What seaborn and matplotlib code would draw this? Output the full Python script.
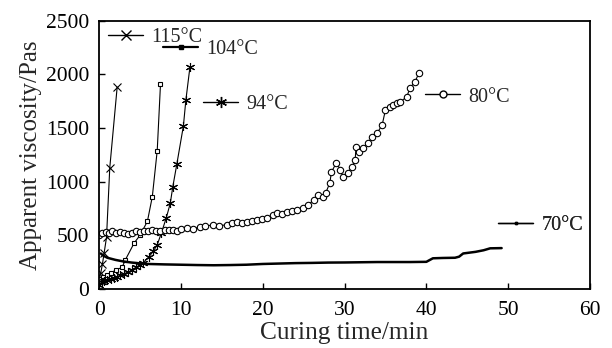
import matplotlib
matplotlib.use("Agg")
import matplotlib.pyplot as plt
from matplotlib.lines import Line2D
import seaborn as sns
import pandas as pd

# Curing time (min) and apparent viscosity (Pa·s) at each curing temperature
t115 = [0.0, 0.2, 0.4, 0.6, 0.9, 1.3, 2.2]
v115 = [80, 150, 230, 330, 480, 1130, 1880]

t104 = [0.0, 0.5, 1.0, 1.5, 2.0, 2.8, 3.2, 4.3, 5.0, 5.9, 6.5, 7.1, 7.5]
v104 = [90, 110, 130, 150, 175, 200, 270, 430, 500, 630, 860, 1290, 1910]

t94 = [0.0, 0.3, 0.6, 1.0, 1.4, 1.8, 2.2, 2.6, 3.0, 3.5, 4.0, 4.5, 5.0,
       5.4, 6.1, 6.6, 7.1, 7.6, 8.2, 8.7, 9.0, 9.5, 10.3, 10.6, 11.1]
v94 = [40, 60, 70, 85, 95, 105, 115, 125, 140, 155, 175, 200, 225,
       245, 300, 350, 410, 520, 660, 800, 950, 1165, 1520, 1760, 2070]

t80 = [0.0, 0.4, 0.8, 1.2, 1.6, 2.0, 2.5, 3.0, 3.5, 4.0, 4.5, 5.0, 5.5,
       6.0, 6.5, 7.0, 7.5, 8.0, 8.5, 9.0, 9.5, 10.0, 10.8, 11.5, 12.3,
       13.0, 13.9, 14.7, 15.6, 16.3, 16.9, 17.5, 18.1, 18.7, 19.3, 19.9,
       20.5, 21.2, 21.8, 22.4, 23.0, 23.6, 24.2, 24.9, 25.5, 26.3, 26.8,
       27.4, 27.7, 28.2, 28.4, 29.0, 29.5, 29.8, 30.4, 30.9, 31.3, 31.4,
       31.8, 32.3, 32.9, 33.4, 34.0, 34.6, 35.0, 35.5, 35.9, 36.4, 36.8,
       37.6, 38.0, 38.6, 39.1]
v80 = [505, 520, 530, 525, 535, 520, 530, 525, 515, 525, 535, 530, 540,
       535, 545, 540, 535, 545, 550, 545, 540, 555, 569, 560, 578,
       585, 597, 590, 597, 610, 625, 615, 625, 635, 643, 650,
       662, 685, 709, 700, 718, 725, 737, 755, 784, 830, 877,
       858, 895, 989, 1091, 1175, 1110, 1045, 1082, 1138, 1203, 1325,
       1278, 1315, 1362, 1418, 1455, 1530, 1670, 1700, 1716, 1730, 1745,
       1790, 1875, 1930, 2015]

t70 = [0.2, 0.5, 1.0, 2.0, 3.0, 4.0, 5.0, 6.0, 8.0, 10.0, 12.0, 14.0,
       16.0, 18.0, 20.0, 22.0, 24.0, 26.0, 28.0, 30.0, 32.0, 34.0, 36.0,
       38.0, 40.0, 40.8, 42.0, 43.5, 44.0, 44.5, 45.0, 46.0, 47.0, 47.8, 49.2]
v70 = [330, 310, 290, 270, 255, 245, 238, 232, 228, 225, 222, 220,
       222, 225, 232, 236, 240, 242, 245, 246, 248, 250, 250,
       250, 252, 285, 288, 290, 300, 330, 335, 345, 360, 378, 380]

labels = ["115°C", "104°C", "94°C", "80°C", "70°C"]
xticks = [0, 10, 20, 30, 40, 50, 60]
yticks = [0, 500, 1000, 1500, 2000, 2500]

sns.set_style("ticks")
plt.rcParams["font.family"] = ["Liberation Serif", "DejaVu Serif"]

fig = plt.figure(figsize=(6.12, 3.48), dpi=100)
ax = fig.add_axes([0.162, 0.170, 0.802, 0.770])

series = [
    (t115, v115, dict(marker="x", markersize=5.5, markeredgewidth=0.8,
                      markerfacecolor="none", linewidth=0.8)),
    (t104, v104, dict(marker="s", markersize=3.2, markeredgewidth=0.8,
                      markerfacecolor="white", linewidth=0.8)),
    (t94, v94, dict(marker=(6, 2, 0), markersize=6.5, markeredgewidth=0.8,
                    linewidth=0.8)),
    (t80, v80, dict(marker="o", markersize=4.6, markeredgewidth=0.8,
                    markerfacecolor="white", linewidth=0.8)),
    (t70, v70, dict(marker=None, linewidth=1.8)),
]
for (t, v, style), lab in zip(series, labels):
    df = pd.DataFrame({"time": t, "visc": v})
    sns.lineplot(data=df, x="time", y="visc", ax=ax, color="black",
                 estimator=None, sort=False, markeredgecolor="black", **style)

ax.set_xlim(0, 60)
ax.set_ylim(0, 2500)
ax.set_xticks(xticks)
ax.set_yticks(yticks)
ax.tick_params(direction="in", length=4, width=1.0, labelsize=15.5,
               colors="black")
ax.tick_params(axis="x", pad=9)
ax.tick_params(axis="y", pad=7)
for s in ax.spines.values():
    s.set_linewidth(1.3)
    s.set_color("black")
ax.set_xlabel("Curing time/min", fontsize=18.3, labelpad=1)
ax.set_ylabel("Apparent viscosity/Pas", fontsize=18, labelpad=3)

# Inline series keys
keys = [
    (Line2D([], [], color="black", lw=1.0, marker="x", ms=7, mew=1.0), (0.018, 0.937)),
    (Line2D([], [], color="black", lw=1.6, marker="s", ms=2.5, mfc="black"), (0.130, 0.892)),
    (Line2D([], [], color="black", lw=1.0, marker=(6, 2, 0), ms=8, mew=1.0), (0.212, 0.687)),
    (Line2D([], [], color="black", lw=1.0, marker="o", ms=5, mfc="white", mew=1.0), (0.664, 0.716)),
    (Line2D([], [], color="black", lw=1.0, marker="s", ms=2, mfc="black"), (0.813, 0.235)),
]
for (h, pos), lab in zip(keys, labels):
    leg = ax.legend(handles=[h], labels=[lab], loc="center left",
                    bbox_to_anchor=pos, frameon=False, fontsize=14.5,
                    handlelength=1.75, handletextpad=0.4, borderpad=0,
                    borderaxespad=0, numpoints=1)
    ax.add_artist(leg)

fig.savefig("out.png", dpi=100)
